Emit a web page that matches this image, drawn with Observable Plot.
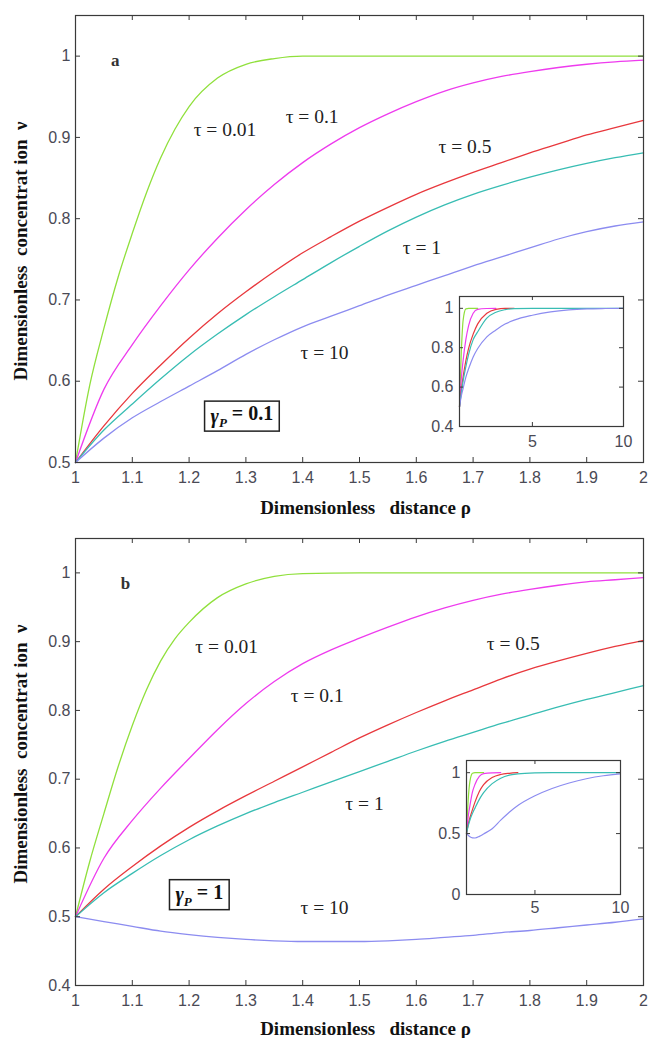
<!DOCTYPE html>
<html><head><meta charset="utf-8">
<script src="https://cdn.jsdelivr.net/npm/d3@7"></script>
<script src="https://cdn.jsdelivr.net/npm/@observablehq/plot@0.6"></script>
<style>
html,body{margin:0;padding:0;background:#fff;}
#wrap{position:relative;width:648px;height:1038px;overflow:hidden;background:#fff;}
#wrap > div{position:absolute;}
</style></head>
<body><div id="wrap"></div>
<script>
// ---- data ----
const taus = ["0.01", "0.1", "0.5", "1", "10"];
const colors = ["#90e03c", "#ee3bee", "#e8383d", "#38bdb3", "#8c8cf0"];
const xTicks = [1, 1.1, 1.2, 1.3, 1.4, 1.5, 1.6, 1.7, 1.8, 1.9, 2];
const yTicksA = [0.5, 0.6, 0.7, 0.8, 0.9, 1];
const yTicksB = [0.4, 0.5, 0.6, 0.7, 0.8, 0.9, 1];
const insetXTicks = [5, 10];
const insetYTicksA = [0.4, 0.6, 0.8, 1];
const insetYTicksB = [0, 0.5, 1];

const rho = [1, 1.05, 1.1, 1.15, 1.2, 1.25, 1.3, 1.35, 1.4, 1.45, 1.5, 1.55, 1.6, 1.65, 1.7, 1.75, 1.8, 1.85, 1.9, 1.95, 2];
const rhoFine = [1, 1.025, 1.05, 1.075, 1.1, 1.125, 1.15, 1.175, 1.2, 1.25, 1.3, 1.35, 1.4, 1.5, 1.6, 1.7, 1.8, 1.9, 2];

// panel a (gamma_P = 0.1)
const greenA = [0.5, 0.595, 0.665, 0.728, 0.782, 0.832, 0.875, 0.91, 0.938, 0.973, 0.99, 0.997, 1, 1, 1, 1, 1, 1, 1];
const magentaA = [0.5, 0.59, 0.645, 0.693, 0.737, 0.776, 0.811, 0.842, 0.869, 0.892, 0.912, 0.929, 0.944, 0.957, 0.967, 0.975, 0.981, 0.986, 0.99, 0.993, 0.995];
const redA = [0.5, 0.545, 0.585, 0.62, 0.653, 0.683, 0.71, 0.735, 0.758, 0.778, 0.797, 0.814, 0.83, 0.844, 0.857, 0.869, 0.881, 0.892, 0.903, 0.912, 0.921];
const cyanA = [0.5, 0.54, 0.572, 0.603, 0.632, 0.658, 0.682, 0.704, 0.725, 0.746, 0.766, 0.785, 0.802, 0.817, 0.83, 0.841, 0.851, 0.86, 0.868, 0.875, 0.881];
const blueA = [0.5, 0.53, 0.555, 0.575, 0.594, 0.613, 0.633, 0.651, 0.667, 0.68, 0.693, 0.706, 0.718, 0.73, 0.742, 0.753, 0.764, 0.775, 0.784, 0.791, 0.796];

// panel b (gamma_P = 1)
const greenB = [0.5, 0.58, 0.65, 0.718, 0.778, 0.83, 0.872, 0.904, 0.928, 0.964, 0.984, 0.995, 0.999, 1, 1, 1, 1, 1, 1];
const magentaB = [0.5, 0.585, 0.64, 0.687, 0.73, 0.772, 0.81, 0.842, 0.868, 0.888, 0.905, 0.921, 0.936, 0.949, 0.96, 0.969, 0.976, 0.982, 0.987, 0.99, 0.993];
const redB = [0.5, 0.54, 0.573, 0.603, 0.63, 0.654, 0.676, 0.697, 0.718, 0.739, 0.76, 0.779, 0.797, 0.814, 0.83, 0.846, 0.86, 0.872, 0.883, 0.893, 0.902];
const cyanB = [0.5, 0.535, 0.563, 0.589, 0.612, 0.632, 0.65, 0.666, 0.681, 0.696, 0.711, 0.726, 0.741, 0.755, 0.768, 0.781, 0.793, 0.805, 0.816, 0.826, 0.836];
const blueB = [0.5, 0.493, 0.486, 0.479, 0.474, 0.47, 0.467, 0.465, 0.464, 0.464, 0.464, 0.465, 0.467, 0.47, 0.473, 0.477, 0.48, 0.484, 0.488, 0.492, 0.497];

// insets (rho from 1 to 10)
const insetRho = [1, 1.1, 1.2, 1.35, 1.5, 1.75, 2, 2.5, 3, 3.5, 4, 5, 6, 7, 8, 9, 10];
const N = null;
const insetGreenA = [0.5, 0.78, 0.94, 0.997, 1, 1, 1, N, N, N, N, N, N, N, N, N, N];
const insetMagentaA = [0.5, 0.645, 0.737, 0.842, 0.912, 0.975, 0.995, 0.999, 1, N, N, N, N, N, N, N, N];
const insetRedA = [0.5, 0.585, 0.653, 0.735, 0.797, 0.869, 0.921, 0.975, 0.995, 1, 1, N, N, N, N, N, N];
const insetCyanA = [0.5, 0.572, 0.632, 0.704, 0.766, 0.841, 0.881, 0.95, 0.98, 0.993, 0.998, 1, 1, 1, 1, 1, 1];
const insetBlueA = [0.5, 0.555, 0.594, 0.651, 0.693, 0.753, 0.796, 0.855, 0.89, 0.92, 0.94, 0.965, 0.982, 0.992, 0.997, 0.999, 1];

const insetGreenB = [0.5, 0.778, 0.928, 0.995, 1, 1, 1, N, N, N, N, N, N, N, N, N, N];
const insetMagentaB = [0.5, 0.64, 0.73, 0.842, 0.905, 0.969, 0.993, 0.999, 1, N, N, N, N, N, N, N, N];
const insetRedB = [0.5, 0.573, 0.63, 0.697, 0.76, 0.846, 0.902, 0.96, 0.985, 0.995, 1, N, N, N, N, N, N];
const insetCyanB = [0.5, 0.563, 0.612, 0.666, 0.711, 0.781, 0.836, 0.91, 0.955, 0.98, 0.99, 0.998, 1, 1, 1, 1, 1];
const insetBlueB = [0.5, 0.486, 0.474, 0.465, 0.464, 0.477, 0.497, 0.54, 0.61, 0.675, 0.73, 0.81, 0.87, 0.915, 0.95, 0.975, 0.99];

// annotation anchors (data units)
const tauLabelsA = [
  {tau: "0.01", x: 1.208, y: 0.909},
  {tau: "0.1", x: 1.37, y: 0.925},
  {tau: "0.5", x: 1.639, y: 0.889},
  {tau: "1", x: 1.576, y: 0.764},
  {tau: "10", x: 1.396, y: 0.635}
];
const tauLabelsB = [
  {tau: "0.01", x: 1.211, y: 0.892},
  {tau: "0.1", x: 1.379, y: 0.821},
  {tau: "0.5", x: 1.724, y: 0.897},
  {tau: "1", x: 1.475, y: 0.664},
  {tau: "10", x: 1.396, y: 0.513}
];
const letterA = {text: "a", x: 1.07, y: 0.995};
const letterB = {text: "b", x: 1.088, y: 0.985};
const gammaA = {value: "0.1", x: 1.293, y: 0.557};
const gammaB = {value: "1", x: 1.218, y: 0.532};
const xTitle = "Dimensionless   distance ρ";
const yTitle = "Dimensionless  concentrat ion  ν";

// ---- helpers ----
function series(xs, ys, tau) {
  return xs.map((x, i) => ({x, y: ys[i], tau})).filter(d => d.y != null);
}
function tidy(xsList, ysList) {
  return ysList.flatMap((ys, i) => series(xsList[i], ys, taus[i]));
}
const fmt = d => String(d);
const frameStroke = "#3a3a3a";
const serif = "'Liberation Serif', 'Times New Roman', serif";

function mainPlot(cfg) {
  const W = 648, H = cfg.height, mL = 75, mR = 5, mT = cfg.mTop, mB = cfg.mBottom;
  const fw = W - mL - mR, fh = H - mT - mB, tl = 5;
  return Plot.plot({
    width: W, height: H, marginLeft: mL, marginRight: mR, marginTop: mT, marginBottom: mB,
    style: {background: "transparent", fontFamily: "'Liberation Sans', Arial, sans-serif", fontSize: "16px", color: "#4a4a55", overflow: "visible"},
    x: {domain: [1, 2], label: null},
    y: {domain: cfg.yDomain, label: null},
    color: {domain: taus, range: colors},
    marks: [
      Plot.frame({fill: "white", stroke: "none"}),
      Plot.line(cfg.data, {x: "x", y: "y", z: "tau", stroke: "tau", strokeWidth: 1.3, curve: "monotone-x"}),
      Plot.tickX(xTicks, {x: d => d, insetTop: fh - tl, stroke: frameStroke}),
      Plot.tickX(xTicks, {x: d => d, insetBottom: fh - tl, stroke: frameStroke}),
      Plot.tickY(cfg.yTicks, {y: d => d, insetRight: fw - tl, stroke: frameStroke}),
      Plot.tickY(cfg.yTicks, {y: d => d, insetLeft: fw - tl, stroke: frameStroke}),
      Plot.frame({stroke: frameStroke, strokeWidth: 1.2}),
      Plot.axisX(xTicks, {anchor: "bottom", tickSize: 0, tickPadding: 9, tickFormat: fmt, label: null, fontSize: 16}),
      Plot.axisY(cfg.yTicks, {anchor: "left", tickSize: 0, tickPadding: 5, tickFormat: fmt, label: null, fontSize: 16}),
      Plot.text(cfg.tauLabels, {x: "x", y: "y", text: d => "τ = " + d.tau, textAnchor: "start",
        fontFamily: serif, fontSize: 19.5, fill: "#222"}),
      Plot.text([cfg.letter], {x: "x", y: "y", text: "text", fontFamily: serif,
        fontWeight: "bold", fontSize: 17, fill: "#333"}),
      Plot.text([cfg.gamma], {x: "x", y: "y", text: "value", ariaLabel: () => "gamma-box",
        fontFamily: serif, fontWeight: "bold", fontSize: 20, fill: "#111"}),
      Plot.text([xTitle], {text: d => d, frameAnchor: "bottom", dy: cfg.xTitleDy, textAnchor: "middle", lineAnchor: "middle", dx: 6,
        fontFamily: serif, fontWeight: "bold", fontSize: 19, fill: "#111"}),
      Plot.text([yTitle], {text: d => d, frameAnchor: "left", dx: -55, dy: cfg.yTitleDy, rotate: -90, textAnchor: "middle", lineAnchor: "middle",
        fontFamily: serif, fontWeight: "bold", fontSize: 19, fill: "#111"})
    ]
  });
}

function insetPlot(cfg) {
  const W = cfg.width, H = cfg.height, mL = 40, mT = 10, mR = W - 40 - cfg.fw, mB = H - 10 - cfg.fh;
  const tl = 4;
  return Plot.plot({
    width: W, height: H, marginLeft: mL, marginRight: mR, marginTop: mT, marginBottom: mB,
    style: {background: "transparent", fontFamily: "'Liberation Sans', Arial, sans-serif", fontSize: "16px", color: "#4a4a55", overflow: "visible"},
    x: {domain: [1, 10], label: null},
    y: {domain: cfg.yDomain, label: null},
    color: {domain: taus, range: colors},
    marks: [
      Plot.frame({fill: "white", stroke: "none"}),
      Plot.line(cfg.data, {x: "x", y: "y", z: "tau", stroke: "tau", strokeWidth: 1.2, curve: "monotone-x"}),
      Plot.tickX(insetXTicks, {x: d => d, insetTop: cfg.fh - tl, stroke: frameStroke}),
      Plot.tickX(insetXTicks, {x: d => d, insetBottom: cfg.fh - tl, stroke: frameStroke}),
      Plot.tickY(cfg.yTicks, {y: d => d, insetRight: cfg.fw - tl, stroke: frameStroke}),
      Plot.tickY(cfg.yTicks, {y: d => d, insetLeft: cfg.fw - tl, stroke: frameStroke}),
      Plot.frame({stroke: frameStroke, strokeWidth: 1.2}),
      Plot.axisX(insetXTicks, {anchor: "bottom", tickSize: 0, tickPadding: cfg.xPad, tickFormat: fmt, label: null, fontSize: 16}),
      Plot.axisY(cfg.yTicks, {anchor: "left", tickSize: 0, tickPadding: 6, tickFormat: fmt, label: null, fontSize: 16})
    ]
  });
}

function decorateText(textEl) {
  if (textEl.__done) return;
  textEl.__done = true;
  const t = d3.select(textEl);
  const val = t.text();
  t.text(null);
  t.append("tspan").attr("font-style", "italic").text("γ");
  t.append("tspan").attr("font-style", "italic").attr("font-size", "13px").attr("dy", "0.35em").text("P");
  t.append("tspan").attr("dy", "-0.35em").text(" = " + val);
  const bb = textEl.getBBox();
  const rect = document.createElementNS("http://www.w3.org/2000/svg", "rect");
  textEl.parentNode.insertBefore(rect, textEl);
  d3.select(rect)
    .attr("transform", t.attr("transform"))
    .attr("x", bb.x - 6).attr("y", bb.y - 1)
    .attr("width", bb.width + 12).attr("height", bb.height + 2)
    .attr("fill", "white").attr("stroke", "#222").attr("stroke-width", 1.5);
}
function decorateGamma(svg, gamma) {
  let els = Array.from(svg.querySelectorAll('[aria-label="gamma-box"]'));
  let texts = [];
  els.forEach(el => {
    if (el.tagName.toLowerCase() === "text") texts.push(el);
    else texts.push(...el.querySelectorAll("text"));
  });
  if (!texts.length) {
    texts = Array.from(svg.querySelectorAll("text")).filter(el => {
      const g = el.closest("g");
      return el.textContent === gamma.value && g && g.getAttribute("font-weight") === "bold" &&
        g.getAttribute("font-size") === "20";
    });
  }
  texts.forEach(decorateText);
}

// ---- build ----
const wrap = document.getElementById("wrap");
function place(node, left, top) {
  const d = document.createElement("div");
  d.style.left = left + "px"; d.style.top = top + "px";
  d.appendChild(node); wrap.appendChild(d);
  return node;
}

const dataA = tidy([rhoFine, rho, rho, rho, rho], [greenA, magentaA, redA, cyanA, blueA]);
const dataB = tidy([rhoFine, rho, rho, rho, rho], [greenB, magentaB, redB, cyanB, blueB]);
const insetDataA = tidy([insetRho, insetRho, insetRho, insetRho, insetRho], [insetGreenA, insetMagentaA, insetRedA, insetCyanA, insetBlueA]);
const insetDataB = tidy([insetRho, insetRho, insetRho, insetRho, insetRho], [insetGreenB, insetMagentaB, insetRedB, insetCyanB, insetBlueB]);

const svgA = place(mainPlot({height: 520, mTop: 15, mBottom: 58, yDomain: [0.5, 1.05], yTicks: yTicksA,
  data: dataA, tauLabels: tauLabelsA, letter: letterA, gamma: gammaA, xTitleDy: 45, yTitleDy: 12}), 0, 0);
decorateGamma(svgA, gammaA);
place(insetPlot({width: 220, height: 170, fw: 164, fh: 130, yDomain: [0.4, 1.06], yTicks: insetYTicksA,
  data: insetDataA, xPad: 9}), 419, 286);

const svgB = place(mainPlot({height: 518, mTop: 18, mBottom: 53, yDomain: [0.4, 1.05], yTicks: yTicksB,
  data: dataB, tauLabels: tauLabelsB, letter: letterB, gamma: gammaB, xTitleDy: 43, yTitleDy: -8}), 0, 520);
decorateGamma(svgB, gammaB);
place(insetPlot({width: 210, height: 175, fw: 154, fh: 134, yDomain: [0, 1.1], yTicks: insetYTicksB,
  data: insetDataB, xPad: 7}), 426, 750);
</script>
</body></html>
